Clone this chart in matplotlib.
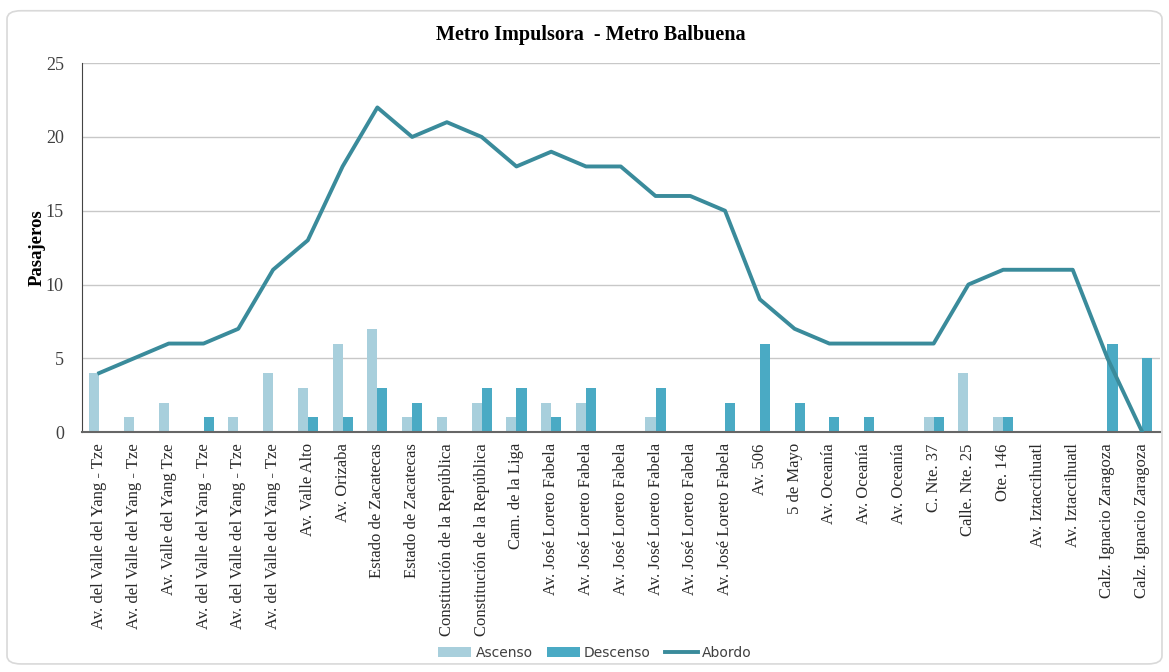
import numpy as np
import matplotlib
matplotlib.use('Agg')
import matplotlib.pyplot as plt
from matplotlib.patches import FancyBboxPatch

paradas = ['Av. del Valle del Yang - Tze', 'Av. del Valle del Yang - Tze', 'Av. Valle del Yang Tze',
           'Av. del Valle del Yang - Tze', 'Av. del Valle del Yang - Tze', 'Av. del Valle del Yang - Tze',
           'Av. Valle Alto', 'Av. Orizaba', 'Estado de Zacatecas', 'Estado de Zacatecas',
           'Constitución de la República', 'Constitución de la República', 'Cam. de la Liga',
           'Av. José Loreto Fabela', 'Av. José Loreto Fabela', 'Av. José Loreto Fabela',
           'Av. José Loreto Fabela', 'Av. José Loreto Fabela', 'Av. José Loreto Fabela',
           'Av. 506', '5 de Mayo', 'Av. Oceanía', 'Av. Oceanía', 'Av. Oceanía',
           'C. Nte. 37', 'Calle. Nte. 25', 'Ote. 146', 'Av. Iztaccihuatl', 'Av. Iztaccihuatl',
           'Calz. Ignacio Zaragoza', 'Calz. Ignacio Zaragoza']
ascenso = [4, 1, 2, 0, 1, 4, 3, 6, 7, 1, 1, 2, 1, 2, 2, 0, 1, 0, 0, 0, 0, 0, 0, 0, 1, 4, 1, 0, 0, 0, 0]
descenso = [0, 0, 0, 1, 0, 0, 1, 1, 3, 2, 0, 3, 3, 1, 3, 0, 3, 0, 2, 6, 2, 1, 1, 0, 1, 0, 1, 0, 0, 6, 5]
abordo = [4, 5, 6, 6, 7, 11, 13, 18, 22, 20, 21, 20, 18, 19, 18, 18, 16, 16, 15, 9, 7, 6, 6, 6, 6, 10, 11, 11, 11, 5, 0]

serif = ['Liberation Serif', 'DejaVu Serif']

fig = plt.figure(figsize=(11.69, 6.72), dpi=100)
# marco redondeado detras de todo
marco = FancyBboxPatch((0.006, 0.012), 0.988, 0.972, boxstyle='round,pad=0,rounding_size=0.012',
                       transform=fig.transFigure, facecolor='white', edgecolor='#d9d9d9', lw=1.2,
                       zorder=-10)
fig.patches.append(marco)

ax = fig.add_axes([0.070, 0.357, 0.922, 0.549])
ax.patch.set_alpha(0)
x = np.arange(len(paradas))
w = 0.29
b1 = ax.bar(x - w / 2, ascenso, w, color='#a8cfdc', label='Ascenso', zorder=2)
b2 = ax.bar(x + w / 2, descenso, w, color='#4aaac4', label='Descenso', zorder=2)
l1, = ax.plot(x, abordo, color='#3a8b9b', lw=2.8, label='Abordo', zorder=3)

ax.set_xlim(-0.5, len(paradas) - 0.5)
ax.set_ylim(0, 25)
ax.set_yticks(range(0, 26, 5))
ax.grid(axis='y', color='#c8c8c8', lw=1, zorder=0)
ax.set_axisbelow(True)
ax.set_xticks(x)
ax.set_xticklabels(paradas, rotation=90, family=serif, fontsize=12, color='#2a2a2a')
for lab in ax.get_yticklabels():
    lab.set_family(serif)
    lab.set_fontsize(13)
    lab.set_color('#404040')
ax.tick_params(axis='x', length=0, pad=8)
ax.tick_params(axis='y', length=0, pad=13)
for s in ['top', 'right']:
    ax.spines[s].set_visible(False)
ax.spines['left'].set_color('#444444')
ax.spines['bottom'].set_color('#666666')
ax.spines['bottom'].set_linewidth(1.5)
ax.set_ylabel('Pasajeros', family=serif, fontsize=13.5, fontweight='bold', labelpad=0)
fig.text(0.505, 0.948, 'Metro Impulsora  - Metro Balbuena', family=serif, fontsize=14.5,
         fontweight='bold', ha='center', va='center')

fig.legend([b1, b2, l1], ['Ascenso', 'Descenso', 'Abordo'], loc='center',
           bbox_to_anchor=(0.509, 0.029), ncol=3, frameon=False, fontsize=10,
           handlelength=2.4, handletextpad=0.3, columnspacing=1.0, labelcolor='#404040')

fig.savefig('out.png', dpi=100)
